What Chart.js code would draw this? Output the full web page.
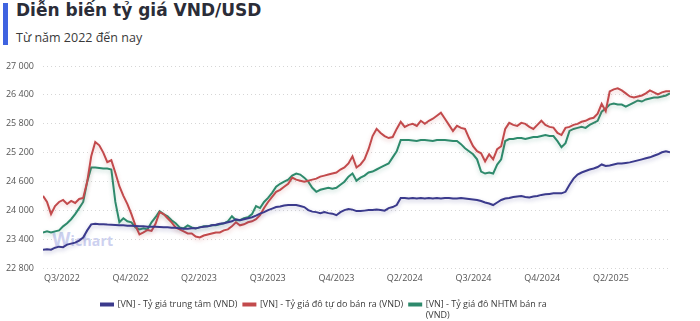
<!DOCTYPE html>
<html>
<head>
<meta charset="utf-8">
<script src="https://cdn.jsdelivr.net/npm/chart.js@4.4.1/dist/chart.umd.min.js"></script>
<style>
html,body{margin:0;padding:0;background:#fff;}
#wrap{position:relative;width:700px;height:321px;overflow:hidden;font-family:'Open Sans',sans-serif;}
#bar{position:absolute;left:3px;top:3px;width:5px;height:42px;background:#3f63e0;}
#title{position:absolute;left:16px;top:0px;font-family:'DejaVu Sans',sans-serif;font-size:17px;font-weight:700;color:#2b2d38;white-space:nowrap;}
#sub{position:absolute;left:16px;top:29px;font-size:12.5px;color:#3a3a3a;white-space:nowrap;}
#wm{position:absolute;left:52px;top:226px;font-size:14px;font-weight:700;color:#cdd1f0;white-space:nowrap;letter-spacing:0.2px;}
#wm span{font-size:19px;}
canvas{position:absolute;left:0;top:0;}
</style>
</head>
<body>
<div id="wrap">
  <div id="bar"></div>
  <div id="title">Diễn biến tỷ giá VND/USD</div>
  <div id="sub">Từ năm 2022 đến nay</div>
  <div id="wm"><span>W</span>ichart</div>
  <canvas id="c" width="700" height="321"></canvas>
</div>
<script>
// ---- Data ----
const tickLabels = ['Q3/2022','Q4/2022','Q2/2023','Q3/2023','Q4/2023','Q2/2024','Q3/2024','Q4/2024','Q2/2025'];
const tickIndex = [4.7, 21.8, 38.8, 55.9, 73.0, 90.0, 107.1, 124.2, 141.3];
const seriesNames = ['[VN] - Tỷ giá trung tâm (VND)', '[VN] - Tỷ giá đô tự do bán ra (VND)', ['[VN] - Tỷ giá đô NHTM bán ra', '(VND)']];

const central = [
23181,23191,23181,23223,23244,23234,23286,23307,23328,23371,
23434,23582,23708,23719,23708,23708,23702,23698,23693,23687,
23687,23681,23677,23672,23666,23666,23660,23656,23656,23651,
23645,23645,23639,23635,23624,23614,23614,23624,23624,23645,
23656,23666,23687,23698,23719,23729,23750,23771,23814,23793,
23814,23835,23856,23888,23930,23962,24004,24035,24067,24078,
24099,24109,24109,24109,24088,24067,24004,23972,23962,23941,
23962,23941,23930,23898,23962,24004,24025,24014,23983,23983,
23993,24004,24004,24014,24004,23993,24046,24067,24109,24257,
24257,24246,24257,24246,24257,24246,24257,24246,24257,24246,
24257,24257,24246,24246,24257,24246,24236,24225,24215,24194,
24162,24141,24109,24162,24215,24246,24257,24278,24288,24299,
24278,24267,24288,24299,24320,24331,24341,24352,24352,24352,
24384,24531,24658,24743,24785,24816,24848,24869,24900,24953,
24922,24932,24953,24974,24974,24985,24996,25017,25038,25059,
25080,25101,25133,25164,25206,25228,25206
];

const freeMarket = [
24299,24173,23920,24088,24173,24215,24130,24194,24152,24236,
24257,24595,25122,25420,25350,25200,25000,25040,24780,24500,
24300,24130,23920,23680,23500,23540,23590,23570,23720,23960,
23920,23835,23750,23645,23603,23561,23518,23518,23455,23434,
23476,23497,23518,23540,23540,23582,23603,23666,23750,23687,
23708,23750,23771,23814,23898,24046,24173,24278,24384,24426,
24489,24552,24680,24637,24616,24595,24616,24637,24658,24700,
24721,24743,24764,24785,24848,24890,24974,25122,24890,24953,
25059,25270,25544,25692,25608,25544,25502,25523,25692,25840,
25734,25776,25797,25755,25861,25797,25861,25903,25966,26029,
25903,25776,25650,25755,25713,25692,25502,25333,25228,25186,
25017,25164,25059,25270,25333,25692,25818,25776,25755,25818,
25797,25734,25692,25776,25861,25776,25734,25720,25608,25565,
25713,25734,25776,25797,25840,25861,25903,25924,26008,26213,
26060,26470,26515,26536,26494,26430,26367,26346,26367,26388,
26430,26494,26452,26409,26452,26473,26473
];

const bankSell = [
23540,23561,23540,23561,23582,23666,23729,23814,23920,24046,
24173,24595,24890,24890,24880,24869,24869,24848,24173,23750,
23835,23771,23750,23645,23603,23624,23603,23750,23856,23983,
23920,23877,23793,23729,23645,23624,23687,23645,23624,23645,
23666,23666,23687,23687,23708,23729,23771,23877,23793,23793,
23835,23856,23920,24088,24046,24173,24257,24363,24489,24552,
24595,24637,24721,24764,24743,24679,24595,24468,24384,24426,
24447,24468,24447,24468,24531,24595,24700,24764,24616,24679,
24721,24785,24806,24848,24890,24932,24974,25101,25228,25460,
25460,25460,25449,25439,25460,25460,25449,25439,25460,25460,
25460,25449,25439,25439,25375,25291,25228,25164,25059,24806,
24764,24785,24764,24950,25060,25440,25481,25481,25502,25502,
25481,25502,25523,25523,25544,25565,25544,25544,25439,25312,
25396,25650,25692,25713,25734,25713,25776,25818,25861,26050,
26114,26198,26219,26198,26198,26156,26198,26240,26283,26261,
26304,26325,26346,26346,26367,26388,26430
];

// ---- Styles ----
const colors = ['#3b3a8c', '#c24a4c', '#2e8a6c'];
const glowColors = ['rgba(59,58,140,0.3)', 'rgba(194,74,76,0.28)', 'rgba(46,138,108,0.28)'];

const toXY = arr => arr.map((v, i) => ({x: i, y: v}));
const fmt = v => String(v).replace(/\B(?=(\d{3})+(?!\d))/g, ' ');

const glow = {
  id: 'glow',
  beforeDatasetDraw(chart, args) {
    const ctx = chart.ctx;
    ctx.save();
    ctx.shadowColor = glowColors[args.index];
    ctx.shadowBlur = 4;
    ctx.shadowOffsetY = 2;
  },
  afterDatasetDraw(chart) { chart.ctx.restore(); }
};

new Chart(document.getElementById('c'), {
  type: 'line',
  data: {
    datasets: [central, freeMarket, bankSell].map((arr, k) => ({
      label: seriesNames[k],
      data: toXY(arr),
      borderColor: colors[k],
      backgroundColor: colors[k],
      borderWidth: 2,
      pointRadius: 0,
      tension: 0,
      fill: false
    }))
  },
  options: {
    responsive: false,
    animation: false,
    devicePixelRatio: 1,
    layout: {padding: {top: 66, left: 4, right: 30, bottom: 2}},
    plugins: {
      tooltip: {enabled: false},
      legend: {
        position: 'bottom',
        labels: {
          boxWidth: 12,
          boxHeight: 2,
          padding: 6,
          color: '#3a3a3a',
          font: {family: "'Open Sans', sans-serif", size: 9}
        }
      }
    },
    scales: {
      x: {
        type: 'linear',
        min: 0,
        max: central.length - 1,
        afterBuildTicks: axis => { axis.ticks = tickIndex.map(v => ({value: v})); },
        afterFit: s => { s.height = 26; },
        grid: {display: false, drawTicks: false},
        border: {display: false},
        ticks: {
          autoSkip: false,
          maxRotation: 0,
          padding: 5,
          color: '#555',
          font: {family: "'Open Sans', sans-serif", size: 9},
          callback: (v, i) => tickLabels[i]
        }
      },
      y: {
        min: 22800,
        max: 27000,
        afterFit: s => { s.width = 39; },
        grid: {color: '#d6d6d6', drawTicks: false, lineWidth: 1},
        border: {display: false, dash: [1, 3]},
        ticks: {
          stepSize: 600,
          padding: 9,
          color: '#555',
          font: {family: "'Open Sans', sans-serif", size: 9},
          callback: v => fmt(v)
        }
      }
    }
  },
  plugins: [glow]
});
</script>
</body>
</html>
